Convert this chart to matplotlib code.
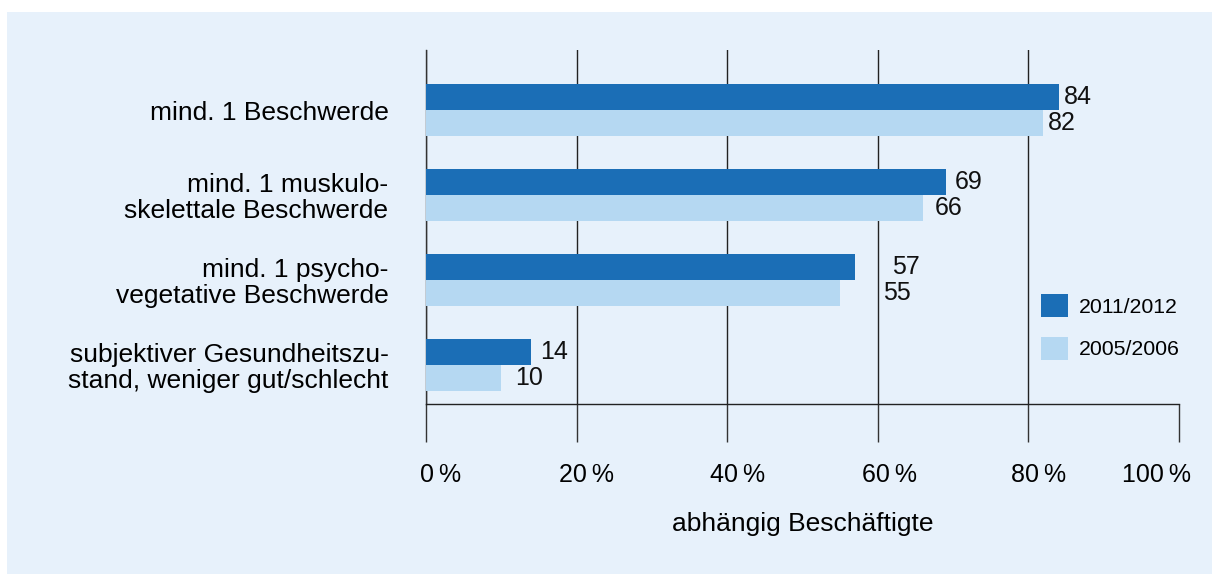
import numpy as np
import matplotlib
matplotlib.use('Agg')
import matplotlib.pyplot as plt
from matplotlib.patches import Rectangle
from matplotlib.transforms import ScaledTranslation

plt.rcParams['font.family'] = ['Liberation Sans', 'DejaVu Sans']

# Daten
kategorien = ['mind. 1 Beschwerde',
              'mind. 1 muskulo-\nskelettale Beschwerde',
              'mind. 1 psycho-\nvegetative Beschwerde',
              'subjektiver Gesundheitszu-\nstand, weniger gut/schlecht']
werte_2011 = [84, 69, 57, 14]
werte_2005 = [82, 66, 55, 10]
serien = ['2011/2012', '2005/2006']
xticks = [0, 20, 40, 60, 80, 100]
xticklabels = ['0\u2009%', '20\u2009%', '40\u2009%', '60\u2009%', '80\u2009%', '100\u2009%']

# Abstand der Zahlen zum Balkenende (Punkte)
abstand_2011 = [3.5, 6.5, 26.5, 6.5]
abstand_2005 = [3.5, 8.5, 31, 10]
# linker Rand der Achsenbeschriftung relativ zum Tick (Pixel)
tick_versatz = [-6, -18, -17, -16, -17, -57]

dunkel = '#1b6eb6'
hell = '#b5d8f2'
hintergrund = '#e7f1fb'

W, H = 1212, 574
fig = plt.figure(figsize=(W / 100, H / 100), dpi=100)
fig.patch.set_facecolor('white')
fig.add_artist(Rectangle((7 / W, 0), 1, 1 - 12 / H, transform=fig.transFigure,
                         facecolor=hintergrund, edgecolor='none', zorder=-10))

ax = fig.add_axes([426 / W, 1 - 404 / H, (1179 - 426) / W, (404 - 50) / H])
ax.set_facecolor('none')

y = np.arange(len(kategorien))
h = 0.306
b1 = ax.barh(y - h / 2, werte_2011, height=h, color=dunkel, label=serien[0], zorder=3)
b2 = ax.barh(y + h / 2, werte_2005, height=h, color=hell, label=serien[1], zorder=3)

for rects, werte, abst in [(b1, werte_2011, abstand_2011), (b2, werte_2005, abstand_2005)]:
    for r, v, a in zip(rects, werte, abst):
        ax.annotate(str(v), (r.get_width(), r.get_y() + r.get_height() / 2),
                    xytext=(a, 0), textcoords='offset points',
                    ha='left', va='center', fontsize=18, color='#111111')

ax.set_xlim(0, 100)
ax.set_ylim(3.459, -0.706)
ax.set_xticks(xticks)
ax.set_xticklabels(xticklabels, fontsize=18)
ax.set_yticks(y)
ax.set_yticklabels(kategorien, fontsize=19, linespacing=1.1)
ax.tick_params(axis='x', length=27, width=1, color='#333333', pad=15.5)
ax.tick_params(axis='y', length=0, pad=27)

for lab, off in zip(ax.get_xticklabels(), tick_versatz):
    lab.set_horizontalalignment('left')
    lab.set_transform(lab.get_transform() + ScaledTranslation(off / 100, 0, fig.dpi_scale_trans))

ax.xaxis.grid(True, color='#222222', linewidth=1, zorder=0)
ax.get_xgridlines()[-1].set_visible(False)
ax.set_axisbelow(True)

for s in ['top', 'right']:
    ax.spines[s].set_visible(False)
ax.spines['left'].set_color('#333333')
ax.spines['bottom'].set_color('#222222')
ax.spines['left'].set_linewidth(1)
ax.spines['bottom'].set_linewidth(1)

ax.set_xlabel('abhängig Beschäftigte', fontsize=19, labelpad=18)

fig.legend(loc='upper left', bbox_to_anchor=(1041 / W, 1 - 294 / H), frameon=False,
           fontsize=15.3, handlelength=1.27, handleheight=1.27, handletextpad=0.5,
           labelspacing=0.95, borderpad=0, borderaxespad=0)

fig.savefig('out.png', dpi=100)
